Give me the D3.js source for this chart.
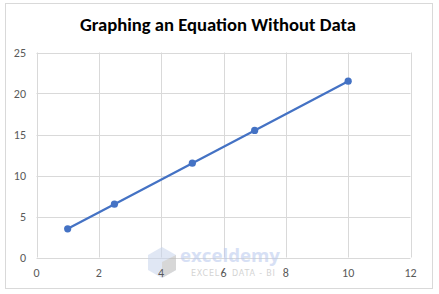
<!DOCTYPE html>
<html><head><meta charset="utf-8">
<script src="https://cdn.jsdelivr.net/npm/d3@7"></script>
<style>body{margin:0;background:#fff}svg{display:block}</style>
</head><body>
<script>
const xValues = [1, 2.5, 5, 7, 10];
const yValues = [3.5, 6.5, 11.5, 15.5, 21.5];
const xTicks = [0, 2, 4, 6, 8, 10, 12];
const yTicks = [0, 5, 10, 15, 20, 25];
const title = "Graphing an Equation Without Data";

const W = 439, H = 294;
const svg = d3.select("body").append("svg").attr("width", W).attr("height", H);
svg.append("rect").attr("x", 5.5).attr("y", 3.5).attr("width", 427).attr("height", 285)
  .attr("fill", "#fff").attr("stroke", "#d9d9d9");

const x = d3.scaleLinear().domain([0, 12]).range([36.5, 410.5]);
const y = d3.scaleLinear().domain([0, 25]).range([257.5, 52.5]);

// gridlines
svg.append("g").selectAll("line").data(yTicks).join("line")
  .attr("x1", x(0)).attr("x2", x(12)).attr("y1", d => Math.round(y(d)) + 0.5).attr("y2", d => Math.round(y(d)) + 0.5)
  .attr("stroke", "#d9d9d9").attr("stroke-width", 1);
svg.append("g").selectAll("line").data(xTicks).join("line")
  .attr("y1", y(0)).attr("y2", y(25)).attr("x1", d => Math.round(x(d)) + 0.5).attr("x2", d => Math.round(x(d)) + 0.5)
  .attr("stroke", "#d9d9d9").attr("stroke-width", 1);

// watermark
const wm = svg.append("g").attr("opacity", 0.55);
wm.append("path").attr("d", "M148,255 L162,247 L176,255 L176,270 L162,278 L148,270 Z").attr("fill", "#c8d4ec");
wm.append("path").attr("d", "M162,262 L176,255 L176,270 L162,278 Z").attr("fill", "#b8b8b8");
wm.append("text").attr("x", 180).attr("y", 262).attr("font-family", "Open Sans, sans-serif")
  .attr("font-weight", "bold").attr("font-size", 18).attr("fill", "#b7c8ee")
  .attr("textLength", 100).attr("lengthAdjust", "spacingAndGlyphs").text("exceldemy");
wm.append("text").attr("x", 191).attr("y", 276).attr("font-family", "DejaVu Sans, sans-serif")
  .attr("font-size", 8).attr("letter-spacing", 0.8).attr("fill", "#b0b0b0").text("EXCEL");
wm.append("text").attr("x", 232).attr("y", 276).attr("font-family", "DejaVu Sans, sans-serif")
  .attr("font-size", 8).attr("letter-spacing", 0.8).attr("fill", "#b0b0b0").text("DATA - BI");

// axes labels
const font = "Calibri, Carlito, 'Open Sans', sans-serif";
svg.append("g").selectAll("text").data(yTicks).join("text")
  .attr("x", 26).attr("y", d => y(d) + 4).attr("text-anchor", "end")
  .attr("font-family", font).attr("font-size", 12).attr("fill", "#595959").text(d => d);
svg.append("g").selectAll("text").data(xTicks).join("text")
  .attr("x", d => x(d)).attr("y", 277).attr("text-anchor", "middle")
  .attr("font-family", font).attr("font-size", 12).attr("fill", "#595959").text(d => d);

// line
const pts = xValues.map((v, i) => [v, yValues[i]]);
svg.append("path").datum(pts)
  .attr("d", d3.line().x(d => x(d[0])).y(d => y(d[1])))
  .attr("fill", "none").attr("stroke", "#4472c4").attr("stroke-width", 2.25).attr("stroke-linecap", "round");
svg.append("g").selectAll("circle").data(pts).join("circle")
  .attr("cx", d => x(d[0])).attr("cy", d => y(d[1])).attr("r", 3.6).attr("fill", "#4472c4");

// title
svg.append("text").attr("x", 218).attr("y", 31).attr("text-anchor", "middle")
  .attr("font-family", font).attr("font-weight", "bold").attr("font-size", 17.5).attr("fill", "#000")
  .attr("textLength", 276).attr("lengthAdjust", "spacingAndGlyphs").text(title);
</script>
</body></html>
